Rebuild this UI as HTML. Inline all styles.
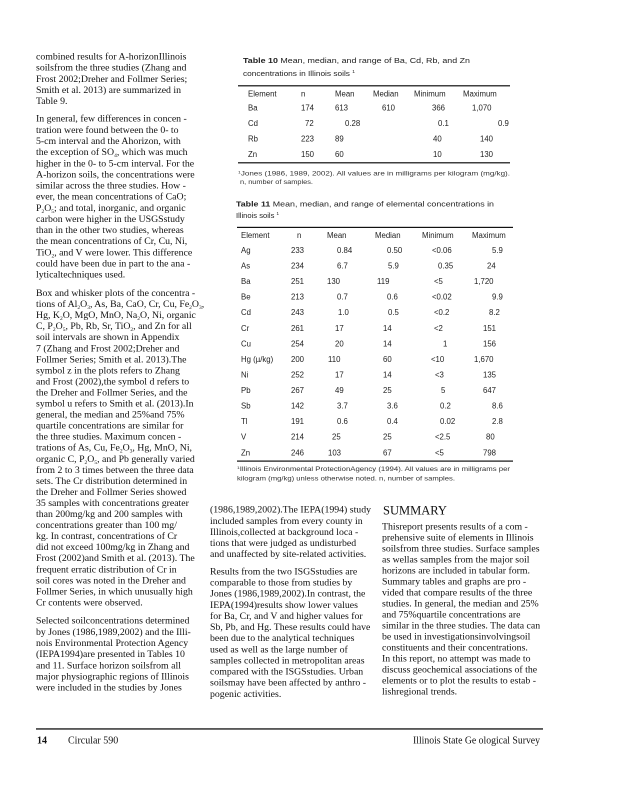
<!DOCTYPE html>
<html><head><meta charset="utf-8"><style>
html,body{margin:0;padding:0;background:#fff;}
svg{display:block}
.b{font-family:"Liberation Serif",serif;font-size:9.8px;fill:#111}
.t{font-family:"Liberation Sans",sans-serif;font-size:7.8px;fill:#222}
.tt{font-family:"Liberation Sans",sans-serif;font-size:7.6px;fill:#222}
.fn{font-family:"Liberation Sans",sans-serif;font-size:6.3px;fill:#333}
.s{font-size:5.5px}
</style></head><body>
<svg width="618" height="800" viewBox="0 0 618 800" xmlns="http://www.w3.org/2000/svg">
<rect width="618" height="800" fill="#fff"/>

<!-- LEFT COLUMN -->
<g class="b">
<text x="36" y="59.4">combined  results for A-horizonIllinois</text>
<text x="36" y="70.6">soilsfrom  the three studies (Zhang and</text>
<text x="36" y="81.8">Frost 2002;Dreher and Follmer Series;</text>
<text x="36" y="93.0">Smith et al. 2013) are summarized  in</text>
<text x="36" y="104.2">Table 9.</text>

<text x="36" y="121.7">In general, few differences  in concen  -</text>
<text x="36" y="132.8">tration were found between the 0- to</text>
<text x="36" y="144.0">5-cm interval and the Ahorizon, with</text>
<text x="36" y="155.1">the exception of SO<tspan class="s" dy="2">4</tspan><tspan dy="-2">, which was much</tspan></text>
<text x="36" y="166.3">higher in the 0- to 5-cm interval. For the</text>
<text x="36" y="177.4">A-horizon soils, the concentrations were</text>
<text x="36" y="188.5">similar across the three studies. How -</text>
<text x="36" y="199.7">ever, the mean  concentrations of CaO;</text>
<text x="36" y="210.8">P<tspan class="s" dy="2">2</tspan><tspan dy="-2">O</tspan><tspan class="s" dy="2">5</tspan><tspan dy="-2">; and total, inorganic, and organic</tspan></text>
<text x="36" y="222.0">carbon  were higher in the USGSstudy</text>
<text x="36" y="233.1">than in the other two studies, whereas</text>
<text x="36" y="244.2">the mean  concentrations of Cr, Cu, Ni,</text>
<text x="36" y="255.4">TiO<tspan class="s" dy="2">2</tspan><tspan dy="-2">, and V were lower. This difference</tspan></text>
<text x="36" y="266.5">could have been  due in part to the ana  -</text>
<text x="36" y="277.7">lyticaltechniques  used.</text>

<text x="36" y="296.0">Box and whisker plots of the concentra  -</text>
<text x="36" y="307.1">tions of Al<tspan class="s" dy="2">2</tspan><tspan dy="-2">O</tspan><tspan class="s" dy="2">3</tspan><tspan dy="-2">, As, Ba, CaO, Cr, Cu, Fe</tspan><tspan class="s" dy="2">2</tspan><tspan dy="-2">O</tspan><tspan class="s" dy="2">3</tspan><tspan dy="-2">,</tspan></text>
<text x="36" y="318.1">Hg, K<tspan class="s" dy="2">2</tspan><tspan dy="-2">O, MgO, MnO, Na</tspan><tspan class="s" dy="2">2</tspan><tspan dy="-2">O, Ni, organic</tspan></text>
<text x="36" y="329.2">C, P<tspan class="s" dy="2">2</tspan><tspan dy="-2">O</tspan><tspan class="s" dy="2">5</tspan><tspan dy="-2">, Pb, Rb, Sr, TiO</tspan><tspan class="s" dy="2">2</tspan><tspan dy="-2">, and Zn for all</tspan></text>
<text x="36" y="340.2">soil intervals are shown in Appendix</text>
<text x="36" y="351.3">7 (Zhang and Frost 2002;Dreher  and</text>
<text x="36" y="362.3">Follmer  Series; Smith et al. 2013).The</text>
<text x="36" y="373.4">symbol z in the plots refers  to Zhang</text>
<text x="36" y="384.4">and  Frost (2002),the symbol d refers  to</text>
<text x="36" y="395.5">the Dreher and Follmer Series, and the</text>
<text x="36" y="406.5">symbol u refers  to Smith et al. (2013).In</text>
<text x="36" y="417.6">general, the median  and 25%and 75%</text>
<text x="36" y="428.6">quartile concentrations  are similar for</text>
<text x="36" y="439.7">the three studies. Maximum  concen  -</text>
<text x="36" y="450.7">trations of As, Cu, Fe<tspan class="s" dy="2">2</tspan><tspan dy="-2">O</tspan><tspan class="s" dy="2">3</tspan><tspan dy="-2">, Hg, MnO, Ni,</tspan></text>
<text x="36" y="461.8">organic C, P<tspan class="s" dy="2">2</tspan><tspan dy="-2">O</tspan><tspan class="s" dy="2">5</tspan><tspan dy="-2">, and  Pb generally varied</tspan></text>
<text x="36" y="472.8">from  2 to 3 times between the three data</text>
<text x="36" y="483.9">sets. The Cr distribution determined  in</text>
<text x="36" y="494.9">the Dreher and Follmer Series showed</text>
<text x="36" y="506.0">35 samples  with concentrations greater</text>
<text x="36" y="517.0">than 200mg/kg and 200 samples with</text>
<text x="36" y="528.1">concentrations greater  than 100 mg/</text>
<text x="36" y="539.1">kg. In contrast, concentrations  of Cr</text>
<text x="36" y="550.2">did not exceed  100mg/kg  in Zhang and</text>
<text x="36" y="561.2">Frost (2002)and  Smith et al. (2013). The</text>
<text x="36" y="572.3">frequent  erratic distribution of Cr in</text>
<text x="36" y="583.3">soil cores was noted in the Dreher  and</text>
<text x="36" y="594.4">Follmer  Series, in which unusually high</text>
<text x="36" y="605.4">Cr contents  were observed.</text>

<text x="36" y="623.7">Selected  soilconcentrations  determined</text>
<text x="36" y="634.9">by Jones  (1986,1989,2002) and the Illi-</text>
<text x="36" y="646.0">nois Environmental  Protection Agency</text>
<text x="36" y="657.2">(IEPA1994)are presented  in Tables 10</text>
<text x="36" y="668.3">and  11. Surface  horizon soilsfrom  all</text>
<text x="36" y="679.5">major  physiographic regions of Illinois</text>
<text x="36" y="690.6">were  included  in the studies by Jones</text>
</g>

<!-- TABLE 10 -->
<text class="tt" x="243" y="63" textLength="227" lengthAdjust="spacingAndGlyphs"><tspan font-weight="bold">Table  10</tspan> Mean,  median,   and  range  of  Ba,  Cd,  Rb,  and  Zn</text>
<text class="tt" x="243" y="76" textLength="112" lengthAdjust="spacingAndGlyphs">concentrations      in Illinois   soils <tspan font-size="4.5" dy="-3">1</tspan></text>
<rect x="238" y="85.2" width="272" height="1.2" fill="#111"/>
<g class="t">
<text x="248" y="96.3">Element</text><text x="301" y="96.3">n</text><text x="335" y="96.3">Mean</text><text x="373" y="96.3">Median</text><text x="414" y="96.3">Minimum</text><text x="463" y="96.3">Maximum</text>
<text x="248" y="110.7">Ba</text><text x="301" y="110.7">174</text><text x="335" y="110.7">613</text><text x="382" y="110.7">610</text><text x="432" y="110.7">366</text><text x="472" y="110.7">1,070</text>
<text x="248" y="126.2">Cd</text><text x="305" y="126.2">72</text><text x="345" y="126.2">0.28</text><text x="438" y="126.2">0.1</text><text x="498" y="126.2">0.9</text>
<text x="248" y="141.7">Rb</text><text x="301" y="141.7">223</text><text x="335" y="141.7">89</text><text x="433" y="141.7">40</text><text x="480" y="141.7">140</text>
<text x="248" y="157.2">Zn</text><text x="301" y="157.2">150</text><text x="335" y="157.2">60</text><text x="433" y="157.2">10</text><text x="480" y="157.2">130</text>
</g>
<rect x="238" y="162.2" width="272" height="1.2" fill="#111"/>
<text class="fn" x="238" y="175.5" textLength="272" lengthAdjust="spacingAndGlyphs"><tspan font-size="4" dy="-2">1</tspan><tspan dy="2">Jones    (1986,    1989,    2002).    All   values    are  in  milligrams     per   kilogram     (mg/kg).</tspan></text>
<text class="fn" x="240" y="184" textLength="73" lengthAdjust="spacingAndGlyphs">n,  number    of samples.</text>

<!-- TABLE 11 -->
<text class="tt" x="236" y="206.5" textLength="258" lengthAdjust="spacingAndGlyphs"><tspan font-weight="bold">Table   11</tspan> Mean,  median,   and  range  of elemental    concentrations       in</text>
<text class="tt" x="236" y="218" textLength="43" lengthAdjust="spacingAndGlyphs">Illinois    soils <tspan font-size="4.5" dy="-3">1</tspan></text>
<rect x="237" y="226.8" width="276" height="1.2" fill="#111"/>
<g class="t">
<text x="241" y="238">Element</text><text x="297" y="238">n</text><text x="327" y="238">Mean</text><text x="375" y="238">Median</text><text x="422" y="238">Minimum</text><text x="472" y="238">Maximum</text>

<text x="241" y="253">Ag</text><text x="291" y="253">233</text><text x="337" y="253">0.84</text><text x="387" y="253">0.50</text><text x="432" y="253">&lt;0.06</text><text x="492" y="253">5.9</text>
<text x="241" y="268.6">As</text><text x="291" y="268.6">234</text><text x="337" y="268.6">6.7</text><text x="388" y="268.6">5.9</text><text x="438" y="268.6">0.35</text><text x="487" y="268.6">24</text>
<text x="241" y="284.1">Ba</text><text x="291" y="284.1">251</text><text x="327" y="284.1">130</text><text x="377" y="284.1">119</text><text x="434" y="284.1">&lt;5</text><text x="474" y="284.1">1,720</text>
<text x="241" y="299.7">Be</text><text x="291" y="299.7">213</text><text x="337" y="299.7">0.7</text><text x="387" y="299.7">0.6</text><text x="432" y="299.7">&lt;0.02</text><text x="492" y="299.7">9.9</text>
<text x="241" y="315.2">Cd</text><text x="291" y="315.2">243</text><text x="338" y="315.2">1.0</text><text x="388" y="315.2">0.5</text><text x="434" y="315.2">&lt;0.2</text><text x="489" y="315.2">8.2</text>
<text x="241" y="330.8">Cr</text><text x="291" y="330.8">261</text><text x="335" y="330.8">17</text><text x="383" y="330.8">14</text><text x="434" y="330.8">&lt;2</text><text x="483" y="330.8">151</text>
<text x="241" y="346.4">Cu</text><text x="291" y="346.4">254</text><text x="335" y="346.4">20</text><text x="383" y="346.4">14</text><text x="443" y="346.4">1</text><text x="483" y="346.4">156</text>
<text x="241" y="361.9">Hg  (µ/kg)</text><text x="291" y="361.9">200</text><text x="328" y="361.9">110</text><text x="383" y="361.9">60</text><text x="431" y="361.9">&lt;10</text><text x="474" y="361.9">1,670</text>
<text x="241" y="377.5">Ni</text><text x="291" y="377.5">252</text><text x="335" y="377.5">17</text><text x="383" y="377.5">14</text><text x="435" y="377.5">&lt;3</text><text x="483" y="377.5">135</text>
<text x="241" y="393">Pb</text><text x="291" y="393">267</text><text x="335" y="393">49</text><text x="383" y="393">25</text><text x="441" y="393">5</text><text x="483" y="393">647</text>
<text x="241" y="408.6">Sb</text><text x="291" y="408.6">142</text><text x="337" y="408.6">3.7</text><text x="387" y="408.6">3.6</text><text x="440" y="408.6">0.2</text><text x="492" y="408.6">8.6</text>
<text x="241" y="424.2">Tl</text><text x="291" y="424.2">191</text><text x="337" y="424.2">0.6</text><text x="387" y="424.2">0.4</text><text x="440" y="424.2">0.02</text><text x="492" y="424.2">2.8</text>
<text x="241" y="439.7">V</text><text x="291" y="439.7">214</text><text x="332" y="439.7">25</text><text x="383" y="439.7">25</text><text x="435" y="439.7">&lt;2.5</text><text x="486" y="439.7">80</text>
<text x="241" y="455.3">Zn</text><text x="291" y="455.3">246</text><text x="328" y="455.3">103</text><text x="383" y="455.3">67</text><text x="435" y="455.3">&lt;5</text><text x="483" y="455.3">798</text>
</g>
<rect x="237" y="460.5" width="276" height="1.2" fill="#111"/>
<text class="fn" x="237" y="471" textLength="273" lengthAdjust="spacingAndGlyphs"><tspan font-size="4" dy="-2">1</tspan><tspan dy="2">Illinois    Environmental        ProtectionAgency          (1994).     All   values    are  in  milligrams       per</tspan></text>
<text class="fn" x="237" y="480.5" textLength="218" lengthAdjust="spacingAndGlyphs">kilogram     (mg/kg)     unless     otherwise       noted.    n,  number     of  samples.</text>

<!-- MIDDLE COLUMN TEXT -->
<g class="b">
<text x="210" y="512.7">(1986,1989,2002).The IEPA(1994) study</text>
<text x="210" y="523.8">included samples  from  every county in</text>
<text x="210" y="534.9">Illinois,collected at background loca  -</text>
<text x="210" y="546.0">tions that were  judged as undisturbed</text>
<text x="210" y="557.1">and  unaffected  by site-related activities.</text>

<text x="210" y="574.4">Results from  the two ISGSstudies are</text>
<text x="210" y="585.5">comparable  to those from  studies by</text>
<text x="210" y="596.7">Jones (1986,1989,2002).In contrast,  the</text>
<text x="210" y="607.8">IEPA(1994)results show lower values</text>
<text x="210" y="618.9">for Ba, Cr, and V and higher values for</text>
<text x="210" y="630.1">Sb, Pb, and  Hg. These results could have</text>
<text x="210" y="641.2">been  due  to the analytical techniques</text>
<text x="210" y="652.3">used as well as the large number   of</text>
<text x="210" y="663.4">samples collected in metropolitan  areas</text>
<text x="210" y="674.6">compared  with the ISGSstudies. Urban</text>
<text x="210" y="685.7">soilsmay have been  affected  by anthro  -</text>
<text x="210" y="696.8">pogenic activities.</text>
</g>

<!-- RIGHT COLUMN -->
<text x="383" y="514.5" style="font-family:'Liberation Serif',serif;font-size:12.5px;fill:#111">SUMMARY</text>
<g class="b">
<text x="382" y="529.4">Thisreport  presents results of a com  -</text>
<text x="382" y="540.4">prehensive suite of elements  in Illinois</text>
<text x="382" y="551.4">soilsfrom  three studies. Surface  samples</text>
<text x="382" y="562.4">as wellas samples from  the major  soil</text>
<text x="382" y="573.4">horizons are  included in tabular form.</text>
<text x="382" y="584.4">Summary  tables and graphs are pro  -</text>
<text x="382" y="595.4">vided that compare   results of the three</text>
<text x="382" y="606.4">studies. In general,  the median  and 25%</text>
<text x="382" y="617.4">and 75%quartile concentrations  are</text>
<text x="382" y="628.4">similar in the three studies. The data can</text>
<text x="382" y="639.4">be used in investigationsinvolvingsoil</text>
<text x="382" y="650.4">constituents and  their concentrations.</text>
<text x="382" y="661.4">In this report,  no attempt  was made  to</text>
<text x="382" y="672.4">discuss geochemical  associations of the</text>
<text x="382" y="683.4">elements  or to plot the results to estab -</text>
<text x="382" y="694.4">lishregional trends.</text>
</g>

<!-- FOOTER -->
<rect x="36" y="728.3" width="507" height="1.3" fill="#111"/>
<text x="37" y="743.5" style="font-family:'Liberation Serif',serif;font-size:10px;font-weight:bold;fill:#111">14</text>
<text x="68" y="743.5" style="font-family:'Liberation Serif',serif;font-size:10px;fill:#111">Circular  590</text>
<text x="413" y="743.5" textLength="127" lengthAdjust="spacingAndGlyphs" style="font-family:'Liberation Serif',serif;font-size:10px;fill:#111">Illinois State Ge ological Survey</text>
</svg>
</body></html>
